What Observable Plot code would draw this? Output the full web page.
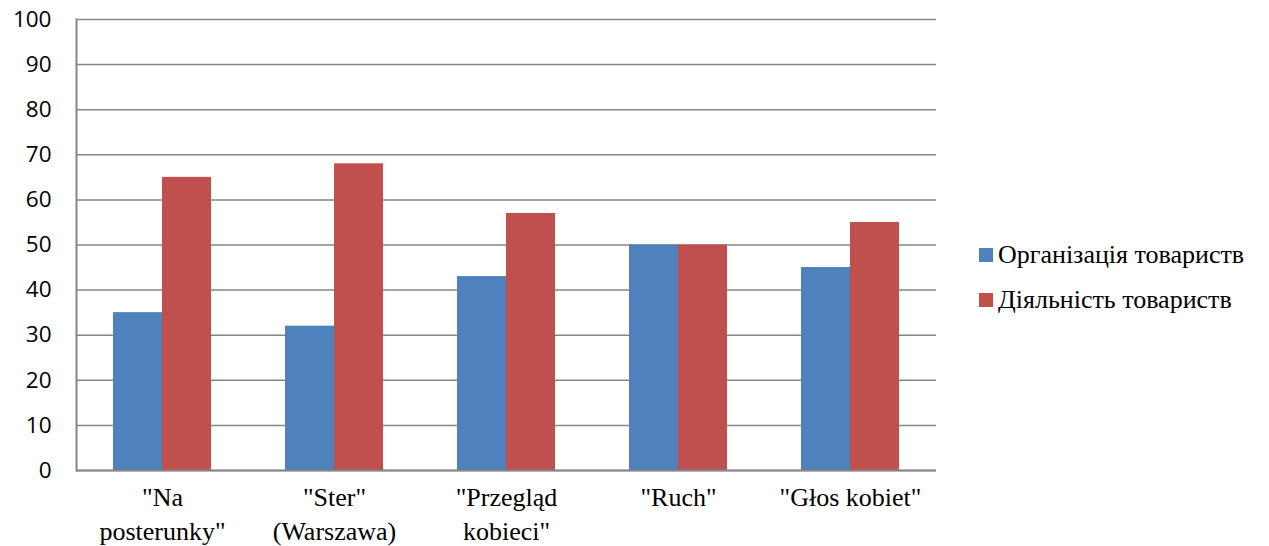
<!DOCTYPE html>
<html>
<head>
<meta charset="utf-8">
<script src="https://cdn.jsdelivr.net/npm/d3@7"></script>
<script src="https://cdn.jsdelivr.net/npm/@observablehq/plot@0.6"></script>
<style>
  html, body { margin: 0; padding: 0; background: #fff; }
  #wrap { position: relative; width: 1269px; height: 546px; }
  .serif, .serif * { font-family: "Times New Roman", "Liberation Serif", serif !important; }
</style>
</head>
<body>
<div id="wrap"></div>
<script>
const categories = ["\"Na\nposterunky\"", "\"Ster\"\n(Warszawa)", "\"Przegląd\nkobieci\"", "\"Ruch\"", "\"Głos kobiet\""];
const seriesNames = ["Організація товариств", "Діяльність товариств"];
const organizationValues = [35, 32, 43, 50, 45];
const activityValues = [65, 68, 57, 50, 55];
const seriesColors = ["#4F81BD", "#C0504D"];
const yTicks = [0, 10, 20, 30, 40, 50, 60, 70, 80, 90, 100];

const rows = [];
categories.forEach((c, i) => {
  rows.push({category: c, series: seriesNames[0], value: organizationValues[i]});
  rows.push({category: c, series: seriesNames[1], value: activityValues[i]});
});

const chart = Plot.plot({
  width: 1269,
  height: 546,
  marginLeft: 75,
  marginRight: 332,
  marginTop: 19,
  marginBottom: 76,
  style: {background: "#fff"},
  fx: {domain: categories, padding: 0, label: null},
  x: {domain: seriesNames, paddingInner: 0, paddingOuter: 0.755, axis: null},
  y: {domain: [0, 100], label: null},
  color: {domain: seriesNames, range: seriesColors},
  marks: [
    Plot.ruleY(yTicks, {stroke: "#868686", strokeWidth: 1.5}),
    Plot.barY(rows, {fx: "category", x: "series", y: "value", fill: "series"}),
    Plot.ruleY([0], {stroke: "#868686", strokeWidth: 2}),
    Plot.frame({anchor: "left", stroke: "#868686", strokeWidth: 2, facet: "super"}),
    Plot.axisY(yTicks, {tickSize: 0, tickPadding: 25, fontSize: 22.5, fontFamily: "Open Sans", fill: "#000", label: null}),
    Plot.axisFx({anchor: "bottom", tickSize: 0, tickPadding: 12, fontSize: 26, fontFamily: "Times New Roman", fill: "#000", lineHeight: 1.3, label: null, className: "serif"})
  ]
});

const wrap = document.getElementById("wrap");
wrap.appendChild(chart);
const legend = document.createElement("div");
legend.className = "serif";
legend.style.cssText = "position:absolute;left:979px;top:232px;font-size:26px;color:#000;";
seriesNames.forEach((s, i) => {
  const it = document.createElement("div");
  it.style.cssText = "display:flex;align-items:center;height:45px;";
  const sw = document.createElement("span");
  sw.style.cssText = "display:inline-block;width:14px;height:14px;margin-right:5px;background:" + seriesColors[i];
  const t = document.createElement("span");
  t.textContent = s;
  it.appendChild(sw); it.appendChild(t);
  legend.appendChild(it);
});
wrap.appendChild(legend);
</script>
</body>
</html>
